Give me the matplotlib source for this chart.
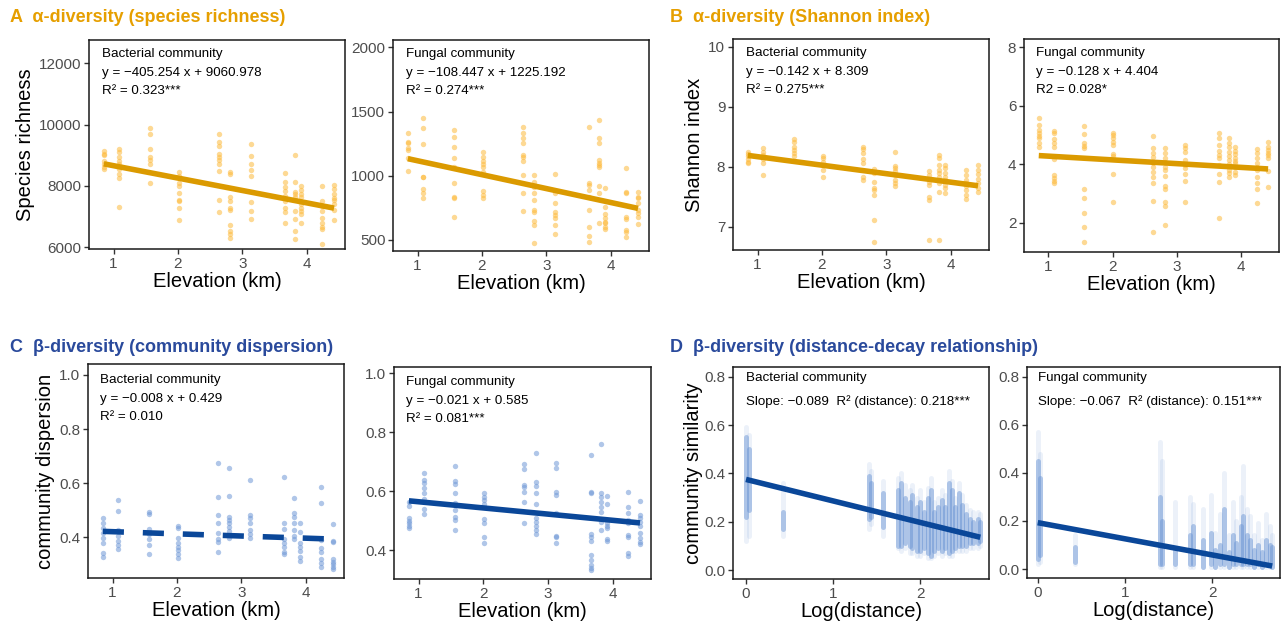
#!/usr/bin/env python3
# -*- coding: utf-8 -*-
"""
    Elevation and distance-decay patterns of bacterial / fungal diversity.
    Four blocks (A-D), each with a bacterial and a fungal panel.
"""

import matplotlib.pyplot as plt
from matplotlib.ticker import FormatStrFormatter

plt.rcParams['font.family'] = ['Liberation Sans', 'DejaVu Sans']

ORANGE = '#E69F00'
ORANGE_LINE = '#DB9A00'
ORANGE_PTS = '#FDBA3C'
BLUE = '#2A4A9C'
BLUE_LINE = '#0A4799'
BLUE_PTS = '#6F98D6'
TICK_GREY = '#4D4D4D'

# ---- sampling sites (km) ----
elev = [0.85, 1.09, 1.56, 2.01, 2.63, 2.81, 3.13, 3.66, 3.81, 3.91, 4.24, 4.42]

# ---- A: species richness, one list per site ----
rich_bac = [
    [9150, 9050, 9000, 8800, 8700, 8600, 8550],
    [9200, 9100, 8950, 8800, 8700, 8550, 8400, 8250, 7300],
    [9870, 9680, 9200, 8950, 8850, 8700, 8080],
    [8440, 8310, 8080, 8000, 7750, 7530, 7500, 7270, 6880],
    [9700, 9430, 9290, 9040, 8950, 8850, 8700, 8470, 7530, 7130],
    [8440, 8390, 7620, 7510, 7290, 7200, 6720, 6520, 6420, 6300],
    [9370, 8960, 8700, 8500, 8330, 7460, 7180, 6910],
    [8410, 8110, 7950, 7840, 7680, 7510, 7290, 7130, 6800],
    [8990, 8110, 7790, 7730, 7620, 7160, 6910, 6520, 6250],
    [8000, 7860, 7730, 7620, 7400, 7290, 7180, 7070, 6770],
    [8000, 7510, 7350, 7180, 6960, 6800, 6660, 6580, 6110],
    [8040, 7890, 7730, 7600, 7530, 7400, 7200, 6880],
]
rich_fun = [
    [1336, 1265, 1258, 1214, 1200, 1141, 1040],
    [1452, 1369, 1245, 993, 988, 894, 868, 824],
    [1356, 1304, 1221, 1141, 1071, 941, 837, 824, 676],
    [1188, 1149, 1115, 1089, 1066, 1032, 884, 850, 824],
    [1377, 1330, 1291, 1253, 1162, 1149, 1115, 1006, 863, 728],
    [1006, 954, 915, 863, 811, 733, 720, 648, 617, 474],
    [1014, 863, 785, 720, 694, 668, 617, 547],
    [1377, 946, 928, 889, 837, 733, 604, 531, 487],
    [1434, 1291, 1253, 1123, 1102, 1084, 1066, 920, 868, 635],
    [902, 759, 700, 668, 643, 630, 604, 583],
    [1063, 876, 863, 676, 663, 578, 565, 526],
    [876, 837, 824, 785, 733, 713, 681, 624],
]

# ---- B: Shannon index ----
shan_bac = [
    [8.25, 8.21, 8.17, 8.12, 8.08, 8.06],
    [8.31, 8.25, 8.19, 8.12, 8.06, 7.86],
    [8.47, 8.42, 8.33, 8.28, 8.22, 8.17],
    [8.18, 8.14, 8.08, 8.03, 7.94, 7.83],
    [8.33, 8.29, 8.22, 8.12, 8.06, 7.83, 7.78],
    [7.96, 7.89, 7.75, 7.64, 7.61, 7.53, 7.11, 6.75],
    [8.25, 8.01, 7.97, 7.92, 7.86, 7.78, 7.72, 7.67],
    [7.92, 7.86, 7.75, 7.69, 7.50, 7.44, 6.78],
    [8.19, 8.14, 8.03, 7.94, 7.89, 7.83, 7.72, 7.57, 6.78],
    [8.03, 7.97, 7.89, 7.83, 7.78, 7.69, 7.64, 7.56],
    [7.94, 7.86, 7.78, 7.72, 7.67, 7.61, 7.53, 7.46],
    [8.02, 7.95, 7.88, 7.80, 7.73, 7.65, 7.58],
]
shan_fun = [
    [5.57, 5.34, 5.17, 5.06, 4.97, 4.89, 4.71, 4.58],
    [5.14, 5.06, 4.85, 4.71, 4.58, 4.17, 3.63, 3.52, 3.44, 3.35],
    [5.31, 5.03, 4.71, 4.62, 4.54, 3.17, 2.83, 2.32, 1.86, 1.35],
    [5.08, 5.00, 4.89, 4.77, 4.66, 4.35, 4.28, 3.67, 2.72],
    [4.97, 4.54, 4.40, 4.24, 4.05, 3.89, 3.75, 3.57, 3.37, 2.75, 1.69],
    [4.54, 4.40, 4.20, 4.09, 3.92, 3.80, 3.60, 3.25, 3.14, 2.72, 2.57, 1.92],
    [4.66, 4.54, 4.43, 4.14, 3.97, 3.86, 3.67, 3.44, 2.72],
    [5.06, 4.89, 4.66, 4.46, 4.32, 4.20, 3.97, 3.67, 3.40, 2.15],
    [4.89, 4.71, 4.58, 4.43, 4.28, 4.14, 4.01, 3.80, 3.69, 3.57],
    [4.58, 4.46, 4.35, 4.20, 4.12, 4.03, 3.92, 3.75, 3.63],
    [4.51, 4.37, 4.20, 4.03, 3.92, 3.80, 3.57, 3.35, 3.14, 2.68],
    [4.77, 4.58, 4.49, 4.40, 4.32, 4.20, 3.78, 3.21],
]

# ---- C: community dispersion ----
disp_bac = [
    [0.470, 0.454, 0.433, 0.415, 0.396, 0.378, 0.343, 0.329],
    [0.538, 0.499, 0.427, 0.405, 0.388, 0.372, 0.357],
    [0.495, 0.486, 0.430, 0.412, 0.393, 0.372, 0.338],
    [0.442, 0.433, 0.396, 0.378, 0.363, 0.353, 0.338, 0.322],
    [0.673, 0.548, 0.483, 0.452, 0.417, 0.393, 0.384, 0.347],
    [0.655, 0.553, 0.476, 0.464, 0.452, 0.437, 0.425, 0.396],
    [0.612, 0.483, 0.470, 0.452, 0.427, 0.412, 0.396],
    [0.622, 0.454, 0.430, 0.393, 0.378, 0.363, 0.347, 0.338],
    [0.547, 0.489, 0.476, 0.452, 0.427, 0.405, 0.393],
    [0.454, 0.421, 0.378, 0.366, 0.351, 0.329, 0.314],
    [0.585, 0.528, 0.390, 0.359, 0.347, 0.319, 0.304, 0.289],
    [0.449, 0.388, 0.384, 0.319, 0.310, 0.301, 0.292, 0.282],
]
disp_fun = [
    [0.564, 0.549, 0.508, 0.500, 0.491, 0.482, 0.474],
    [0.663, 0.638, 0.626, 0.609, 0.592, 0.575, 0.541, 0.522],
    [0.685, 0.635, 0.624, 0.592, 0.561, 0.536, 0.513, 0.502, 0.468],
    [0.595, 0.581, 0.570, 0.556, 0.504, 0.493, 0.445, 0.425],
    [0.692, 0.674, 0.621, 0.615, 0.598, 0.564, 0.493],
    [0.728, 0.632, 0.617, 0.592, 0.556, 0.508, 0.496, 0.482, 0.468, 0.454],
    [0.697, 0.677, 0.598, 0.587, 0.527, 0.448, 0.443, 0.423],
    [0.723, 0.598, 0.595, 0.454, 0.443, 0.432, 0.383, 0.368, 0.349, 0.341, 0.332],
    [0.760, 0.592, 0.581, 0.564, 0.547, 0.530, 0.496, 0.468],
    [0.585, 0.556, 0.491, 0.482, 0.474, 0.436, 0.432],
    [0.597, 0.545, 0.527, 0.502, 0.491, 0.451, 0.443, 0.391, 0.380],
    [0.568, 0.519, 0.508, 0.496, 0.482, 0.457, 0.440, 0.428, 0.420],
]

# ---- D: distance-decay, similarity range per distance column ----
# columns: log distance, full low, full high, dense low, dense high
dd_bac_dist = [0.00, 0.03, 0.42, 1.41, 1.43, 1.57, 1.75, 1.78, 1.82, 1.88, 1.91,
               1.96, 2.00, 2.04, 2.09, 2.12, 2.16, 2.21, 2.25, 2.29, 2.33, 2.36,
               2.40, 2.45, 2.48, 2.53, 2.57, 2.61, 2.66, 2.69]
dd_bac_lo = [0.12, 0.14, 0.14, 0.17, 0.19, 0.14, 0.09, 0.08, 0.09, 0.07, 0.07,
             0.06, 0.06, 0.07, 0.05, 0.05, 0.06, 0.07, 0.06, 0.07, 0.06, 0.06,
             0.08, 0.08, 0.08, 0.08, 0.09, 0.09, 0.09, 0.10]
dd_bac_hi = [0.59, 0.56, 0.36, 0.44, 0.41, 0.37, 0.38, 0.40, 0.35, 0.33, 0.35,
             0.30, 0.33, 0.28, 0.34, 0.38, 0.28, 0.30, 0.33, 0.31, 0.41, 0.37,
             0.30, 0.36, 0.31, 0.27, 0.25, 0.24, 0.24, 0.23]
dd_bac_clo = [0.22, 0.25, 0.17, 0.21, 0.22, 0.18, 0.10, 0.10, 0.11, 0.10, 0.09,
              0.08, 0.08, 0.09, 0.07, 0.06, 0.08, 0.09, 0.08, 0.09, 0.07, 0.08,
              0.09, 0.10, 0.10, 0.10, 0.11, 0.11, 0.11, 0.12]
dd_bac_chi = [0.55, 0.50, 0.24, 0.39, 0.36, 0.32, 0.33, 0.36, 0.30, 0.28, 0.31,
              0.26, 0.28, 0.24, 0.30, 0.33, 0.24, 0.26, 0.29, 0.26, 0.36, 0.33,
              0.26, 0.32, 0.27, 0.23, 0.21, 0.20, 0.21, 0.20]

dd_fun_dist = [0.00, 0.03, 0.43, 1.40, 1.43, 1.57, 1.75, 1.78, 1.90, 1.99, 2.03,
               2.09, 2.14, 2.19, 2.24, 2.28, 2.33, 2.36, 2.40, 2.44, 2.48, 2.53,
               2.57, 2.62, 2.66, 2.69]
dd_fun_lo = [0.02, 0.03, 0.02, 0.01, 0.01, 0.01, 0.01, 0.01, 0.01, 0.01, 0.01,
             0.01, 0.01, 0.01, 0.01, 0.01, 0.01, 0.01, 0.01, 0.01, 0.01, 0.01,
             0.01, 0.01, 0.01, 0.01]
dd_fun_hi = [0.57, 0.48, 0.14, 0.53, 0.45, 0.28, 0.30, 0.27, 0.25, 0.31, 0.15,
             0.23, 0.40, 0.14, 0.28, 0.20, 0.30, 0.43, 0.25, 0.22, 0.14, 0.19,
             0.12, 0.23, 0.18, 0.14]
dd_fun_clo = [0.04, 0.06, 0.03, 0.02, 0.02, 0.02, 0.02, 0.02, 0.01, 0.02, 0.01,
              0.02, 0.02, 0.01, 0.02, 0.02, 0.02, 0.02, 0.02, 0.02, 0.01, 0.02,
              0.01, 0.02, 0.02, 0.01]
dd_fun_chi = [0.45, 0.38, 0.09, 0.30, 0.20, 0.08, 0.14, 0.18, 0.12, 0.15, 0.08,
              0.10, 0.25, 0.07, 0.14, 0.11, 0.18, 0.22, 0.14, 0.12, 0.08, 0.10,
              0.07, 0.12, 0.10, 0.09]

# fitted lines (slope, intercept); D intercepts
fit_rich = [(-405.254, 9060.978), (-108.447, 1225.192)]
fit_shan = [(-0.142, 8.309), (-0.128, 4.404)]
fit_disp = [(-0.008, 0.429), (-0.021, 0.585)]
fit_dd = [(-0.089, 0.375), (-0.067, 0.193)]

W, H = 1282, 629
fig = plt.figure(figsize=(W / 100, H / 100), dpi=100)


def add_ax(left, top, right, bottom):
    '''
        Add an axes given its box in pixels (origin top-left).
    '''
    return fig.add_axes([left / W, 1 - bottom / H, (right - left) / W,
                         (bottom - top) / H])


def style_ax(ax, xlabel, ylabel=None):
    for sp in ax.spines.values():
        sp.set_linewidth(1.1)
        sp.set_color('#1a1a1a')
    ax.tick_params(labelsize=11, labelcolor=TICK_GREY, color='#333333',
                   length=3.5, width=1.0, pad=2)
    ax.set_xlabel(xlabel, fontsize=14.5, labelpad=1)
    if ylabel:
        ax.set_ylabel(ylabel, fontsize=14.5, labelpad=3)


def annotate(ax, lines, first=14, step=18.5, left=12.5):
    '''
        Write the text block in the upper-left corner (offsets in pixels).
    '''
    for i, s in enumerate(lines):
        ax.annotate(s, xy=(0, 1), xycoords='axes fraction',
                    xytext=(left * 0.72, -(first + i * step) * 0.72),
                    textcoords='offset points', va='center', ha='left',
                    fontsize=9.6)


def elev_panel(ax, values, fit, pts_col, line_col, dashed=False):
    xs, ys = [], []
    for e, col in zip(elev, values):
        xs += [e] * len(col)
        ys += col
    ax.scatter(xs, ys, s=15, color=pts_col, alpha=0.55, linewidths=0, zorder=2)
    x0, x1 = min(elev), max(elev)
    b, a = fit
    ln, = ax.plot([x0, x1], [a + b * x0, a + b * x1], color=line_col, lw=4,
                  solid_capstyle='butt', zorder=3)
    if dashed:
        ln.set_dashes((3.8, 3.4))
    ax.set_xticks([1, 2, 3, 4])
    ax.set_xlim(0.62, 4.59)


def dd_panel(ax, dist, lo, hi, clo, chi, fit):
    # faint tails, then the dense core of each distance column
    ax.vlines(dist, lo, hi, color=BLUE_PTS, alpha=0.13, lw=3.6,
              capstyle='round', zorder=2)
    ax.vlines(dist, clo, chi, color=BLUE_PTS, alpha=0.5, lw=3.6,
              capstyle='round', zorder=2)
    b, a = fit
    x0, x1 = min(dist), max(dist)
    ax.plot([x0, x1], [a + b * x0, a + b * x1], color=BLUE_LINE, lw=4,
            solid_capstyle='butt', zorder=3)
    ax.set_xticks([0, 1, 2])
    ax.set_yticks([0.0, 0.2, 0.4, 0.6, 0.8])
    ax.yaxis.set_major_formatter(FormatStrFormatter('%.1f'))
    ax.set_ylim(-0.037, 0.84)
    style_ax(ax, 'Log(distance)')


# ---- section titles ----
fig.text(10 / W, 1 - 18 / H, 'A  α-diversity (species richness)', fontsize=13,
         fontweight='bold', color=ORANGE, va='center')
fig.text(670 / W, 1 - 18 / H, 'B  α-diversity (Shannon index)', fontsize=13,
         fontweight='bold', color=ORANGE, va='center')
fig.text(10 / W, 1 - 348 / H, 'C  β-diversity (community dispersion)',
         fontsize=13, fontweight='bold', color=BLUE, va='center')
fig.text(670 / W, 1 - 348 / H, 'D  β-diversity (distance-decay relationship)',
         fontsize=13, fontweight='bold', color=BLUE, va='center')

# ---- A ----
ax = add_ax(89, 40, 345, 249)
elev_panel(ax, rich_bac, fit_rich[0], ORANGE_PTS, ORANGE_LINE)
ax.set_yticks([6000, 8000, 10000, 12000])
ax.set_ylim(5935, 12760)
style_ax(ax, 'Elevation (km)', 'Species richness')
annotate(ax, ['Bacterial community', 'y = \u2212405.254 x + 9060.978',
              'R\u00b2 = 0.323***'])

ax = add_ax(393, 40, 649, 251)
elev_panel(ax, rich_fun, fit_rich[1], ORANGE_PTS, ORANGE_LINE)
ax.set_yticks([500, 1000, 1500, 2000])
ax.set_ylim(414, 2057)
style_ax(ax, 'Elevation (km)')
annotate(ax, ['Fungal community', 'y = \u2212108.447 x + 1225.192',
              'R\u00b2 = 0.274***'])

# ---- B ----
ax = add_ax(733, 39, 989, 250)
elev_panel(ax, shan_bac, fit_shan[0], ORANGE_PTS, ORANGE_LINE)
ax.set_yticks([7, 8, 9, 10])
ax.set_ylim(6.61, 10.13)
style_ax(ax, 'Elevation (km)', 'Shannon index')
annotate(ax, ['Bacterial community', 'y = \u22120.142 x + 8.309',
              'R\u00b2 = 0.275***'])

ax = add_ax(1024, 39, 1279, 252)
elev_panel(ax, shan_fun, fit_shan[1], ORANGE_PTS, ORANGE_LINE)
ax.set_yticks([2, 4, 6, 8])
ax.set_ylim(1.0, 8.28)
style_ax(ax, 'Elevation (km)')
annotate(ax, ['Fungal community', 'y = \u22120.128 x + 4.404', 'R2 = 0.028*'])

# ---- C ----
ax = add_ax(88, 364, 344, 578)
elev_panel(ax, disp_bac, fit_disp[0], BLUE_PTS, BLUE_LINE, dashed=True)
ax.set_yticks([0.4, 0.6, 0.8, 1.0])
ax.yaxis.set_major_formatter(FormatStrFormatter('%.1f'))
ax.set_ylim(0.25, 1.04)
style_ax(ax, 'Elevation (km)', 'community dispersion')
annotate(ax, ['Bacterial community', 'y = \u22120.008 x + 0.429',
              'R\u00b2 = 0.010'], first=16)

ax = add_ax(394, 367, 651, 579)
elev_panel(ax, disp_fun, fit_disp[1], BLUE_PTS, BLUE_LINE)
ax.set_yticks([0.4, 0.6, 0.8, 1.0])
ax.yaxis.set_major_formatter(FormatStrFormatter('%.1f'))
ax.set_ylim(0.302, 1.021)
style_ax(ax, 'Elevation (km)')
annotate(ax, ['Fungal community', 'y = \u22120.021 x + 0.585',
              'R\u00b2 = 0.081***'], first=15)

# ---- D ----
ax = add_ax(733, 367, 989, 579)
dd_panel(ax, dd_bac_dist, dd_bac_lo, dd_bac_hi, dd_bac_clo, dd_bac_chi,
         fit_dd[0])
ax.set_xlim(-0.149, 2.79)
ax.set_ylabel('community similarity', fontsize=14.5, labelpad=1)
annotate(ax, ['Bacterial community',
              'Slope: \u22120.089  R\u00b2 (distance): 0.218***'],
         first=11, step=24, left=13.5)

ax = add_ax(1027, 367, 1280, 578)
dd_panel(ax, dd_fun_dist, dd_fun_lo, dd_fun_hi, dd_fun_clo, dd_fun_chi,
         fit_dd[1])
ax.set_xlim(-0.123, 2.78)
annotate(ax, ['Fungal community',
              'Slope: \u22120.067  R\u00b2 (distance): 0.151***'],
         first=11, step=24, left=11)

fig.savefig('out.png', dpi=100)
